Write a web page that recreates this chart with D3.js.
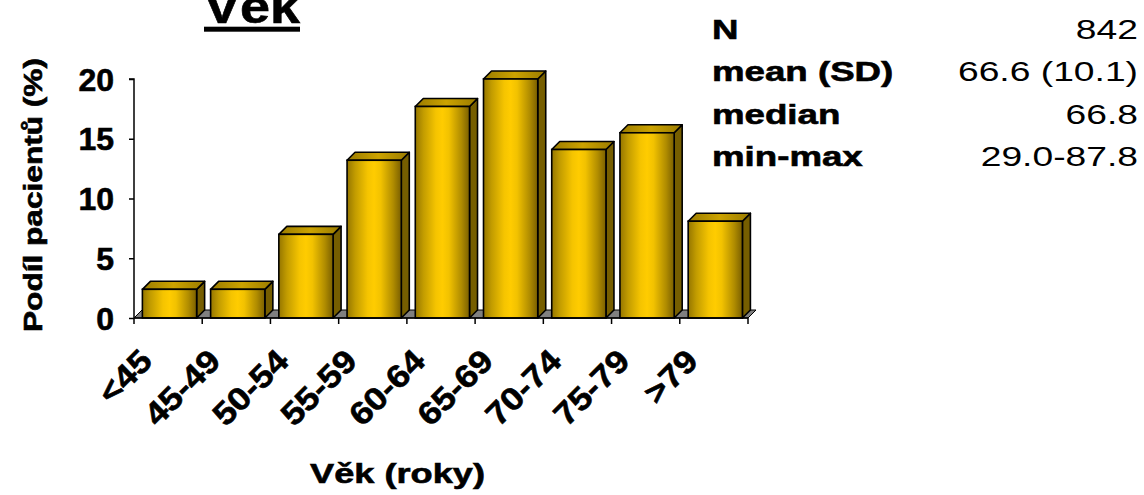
<!DOCTYPE html>
<html>
<head>
<meta charset="utf-8">
<script src="https://cdn.jsdelivr.net/npm/d3@7"></script>
<style>
html, body { margin: 0; padding: 0; background: #fff; }
svg { display: block; }
text { font-family: "Liberation Sans", Arial, sans-serif; fill: #000; }
text.heavy { stroke: #000; stroke-width: 0.6px; }
</style>
</head>
<body>
<svg id="chart" width="1144" height="495"></svg>
<script>
const categories = ["<45", "45-49", "50-54", "55-59", "60-64", "65-69", "70-74", "75-79", ">79"];
const values = [2.4, 2.4, 7.0, 13.2, 17.7, 20.0, 14.1, 15.5, 8.1];
const yTicks = [0, 5, 10, 15, 20];
const statLabels = ["N", "mean (SD)", "median", "min-max"];
const statValues = ["842", "66.6 (10.1)", "66.8", "29.0-87.8"];
const chartTitle = "Věk";
const xTitle = "Věk (roky)";
const yTitle = "Podíl pacientů (%)";

(function () {
const svg = d3.select("#chart");
const pLeft = 134, pRight = 748, pTop = 79, pBottom = 318, depth = 8;

const x = d3.scaleBand().domain(categories).range([pLeft, pRight]).paddingInner(0).paddingOuter(0);
const y = d3.scaleLinear().domain([0, 20]).range([pBottom, pTop]);
const bw = x.bandwidth();

// gradients
const defs = svg.append("defs");
const gFront = defs.append("linearGradient").attr("id", "gFront").attr("x1", "0").attr("x2", "1").attr("y1", "0").attr("y2", "0");
[[0, "#957600"], [0.15, "#C29C00"], [0.38, "#F5C400"], [0.5, "#FFCC00"], [0.62, "#F2C200"], [0.85, "#B08C00"], [1, "#7A5F00"]]
  .forEach(([o, c]) => gFront.append("stop").attr("offset", o).attr("stop-color", c));
const gTop = defs.append("linearGradient").attr("id", "gTop").attr("x1", "0").attr("x2", "1").attr("y1", "0").attr("y2", "0");
[[0, "#9A7B00"], [0.5, "#CCA300"], [1, "#9A7B00"]]
  .forEach(([o, c]) => gTop.append("stop").attr("offset", o).attr("stop-color", c));

const lastX = x(categories[categories.length - 1]) + bw;

// floor
svg.append("polygon")
  .attr("points", [[x(categories[0]), y(0)], [lastX, y(0)], [lastX + depth, y(0) - depth], [x(categories[0]) + depth, y(0) - depth]]
    .map(p => p.join(",")).join(" "))
  .attr("fill", "#808080").attr("stroke", "#000").attr("stroke-width", 1);

// bars
const bars = svg.append("g").selectAll("g").data(categories).join("g");
bars.each(function (c, i) {
  const g = d3.select(this);
  const x0 = x(c) + bw * 0.123;
  const x1 = x0 + bw * 0.795;
  const yt = y(values[i]);
  const yb = y(0);
  g.append("polygon")
    .attr("points", [[x1, yt], [x1 + depth, yt - depth], [x1 + depth, yb - depth], [x1, yb]].map(p => p.join(",")).join(" "))
    .attr("fill", "#765E00").attr("stroke", "#000").attr("stroke-width", 1.6).attr("stroke-linejoin", "round");
  g.append("polygon")
    .attr("points", [[x0, yt], [x1, yt], [x1 + depth, yt - depth], [x0 + depth, yt - depth]].map(p => p.join(",")).join(" "))
    .attr("fill", "url(#gTop)").attr("stroke", "#000").attr("stroke-width", 1.6).attr("stroke-linejoin", "round");
  g.append("rect")
    .attr("x", x0).attr("y", yt).attr("width", x1 - x0).attr("height", yb - yt)
    .attr("fill", "url(#gFront)").attr("stroke", "#000").attr("stroke-width", 1.6);
});

// y axis
const yAxis = svg.append("g").attr("transform", `translate(${pLeft},0)`)
  .call(d3.axisLeft(y).tickValues(yTicks).tickSize(5).tickPadding(15).tickFormat(d3.format("d")));
yAxis.select(".domain").attr("stroke", "#000").attr("stroke-width", 1.5).attr("d", `M-5,${pTop}H0V${pBottom}`);
yAxis.selectAll(".tick line").attr("stroke", "#000").attr("stroke-width", 1.5);
yAxis.selectAll(".tick text")
  .attr("class", "heavy")
  .attr("font-size", 32).attr("font-weight", "bold")
  .attr("font-family", "'Liberation Sans', Arial, sans-serif")
  .attr("fill", "#000").attr("dy", "0.35em");

// x axis line + ticks at band boundaries
const xAxisG = svg.append("g");
xAxisG.append("line").attr("x1", pLeft).attr("x2", pRight).attr("y1", y(0)).attr("y2", y(0))
  .attr("stroke", "#000").attr("stroke-width", 1.5);
const bounds = categories.map(c => x(c)).concat([lastX]);
xAxisG.selectAll("line.tk").data(bounds).join("line").attr("class", "tk")
  .attr("x1", d => d).attr("x2", d => d).attr("y1", y(0)).attr("y2", y(0) + 6)
  .attr("stroke", "#000").attr("stroke-width", 1.5);

// x labels
svg.append("g").selectAll("text").data(categories).join("text")
  .attr("class", "heavy")
  .attr("transform", c => `translate(${x(c) + bw / 2 - 14},${363}) rotate(-45) scale(1.12,1)`)
  .attr("text-anchor", "end")
  .attr("font-size", 32).attr("font-weight", "bold")
  .text(c => c);

// axis titles
svg.append("text")
  .attr("class", "heavy")
  .attr("x", 310).attr("y", 483)
  .attr("font-size", 28).attr("font-weight", "bold")
  .attr("textLength", 175).attr("lengthAdjust", "spacingAndGlyphs")
  .text(xTitle);

svg.append("text")
  .attr("class", "heavy")
  .attr("transform", `translate(42,195) rotate(-90)`)
  .attr("text-anchor", "middle").attr("font-size", 25).attr("font-weight", "bold")
  .attr("textLength", 274).attr("lengthAdjust", "spacingAndGlyphs")
  .text(yTitle);

// chart title
svg.append("text")
  .attr("class", "heavy")
  .attr("x", 204).attr("y", 23)
  .attr("font-size", 46).attr("font-weight", "bold")
  .attr("textLength", 96).attr("lengthAdjust", "spacingAndGlyphs")
  .text(chartTitle);
svg.append("rect").attr("x", 204).attr("y", 26.7).attr("width", 96).attr("height", 5).attr("fill", "#000");

// stats table
const rowY = d3.scalePoint().domain(statLabels).range([39, 166]);
svg.append("g").selectAll("text").data(statLabels).join("text")
  .attr("class", "heavy")
  .attr("transform", d => `translate(712,${rowY(d)}) scale(1.31,1)`)
  .attr("font-size", 28).attr("font-weight", "bold")
  .text(d => d);
svg.append("g").selectAll("text").data(statValues).join("text")
  .attr("transform", (d, i) => `translate(1138,${rowY(statLabels[i])}) scale(1.33,1)`)
  .attr("text-anchor", "end")
  .attr("font-size", 28)
  .text(d => d);
})();
</script>
</body>
</html>
